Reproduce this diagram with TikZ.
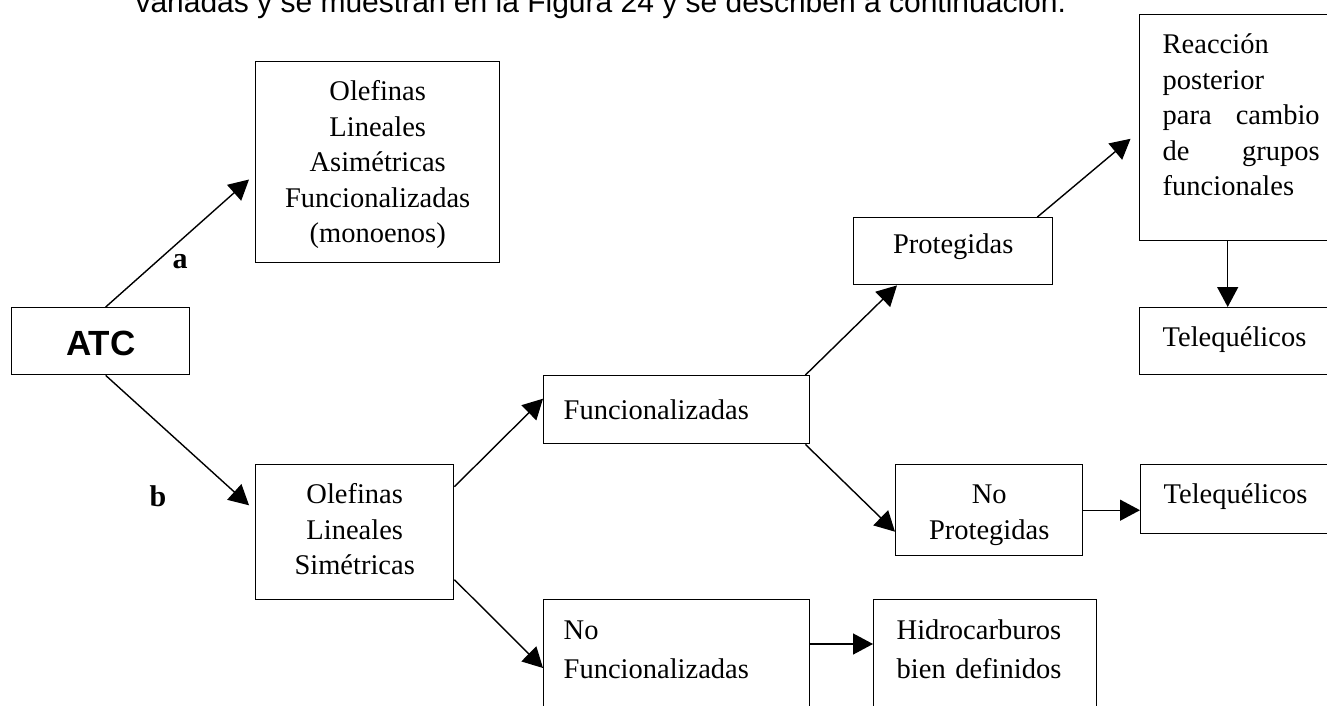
\documentclass[tikz,border=0pt]{standalone}
\usepackage{fontspec}
\setmainfont{Liberation Serif}
\setsansfont{Liberation Sans}
\usetikzlibrary{arrows.meta}
\tikzset{
  caja/.style={draw, line width=1.4pt, rectangle, inner sep=0pt, anchor=north west,
    font=\fontsize{28.5}{35.5}\selectfont},
  flecha/.style={line width=1.4pt, -{Triangle[length=20pt,width=21pt]}},
  etiqueta/.style={anchor=base, font=\fontsize{30}{36}\selectfont\bfseries}
}
\begin{document}
\begin{tikzpicture}[x=1pt,y=-1pt]
\useasboundingbox (0,0) rectangle (1327,706);
\clip (0,0) rectangle (1327,706);
\node[anchor=base west, font=\sffamily\fontsize{30}{36}\selectfont] (encabezado) at (132,13)
  {variadas y se muestran en la Figura 24 y se describen a continuación.};
\node[caja, minimum width=178pt, text width=178pt, align=center, text height=48pt, text depth=19pt,
  font=\sffamily\bfseries\fontsize{35}{42}\selectfont] (atc) at (11,307) {ATC};
\node[caja, minimum width=244pt, text width=224pt, align=center, text height=39pt, text depth=162pt] (asim) at (255,61)
  {Olefinas\\ Lineales\\ Asimétricas\\ Funcionalizadas\\ (monoenos)};
\node[caja, minimum width=203pt, text width=157pt, align=left, text height=39pt, text depth=187pt] (reacc) at (1139,14)
  {Reacción\\ posterior\\ para\hfill cambio\\ de\hfill grupos\\ funcionales};
\node[caja, minimum width=199pt, text width=180pt, align=center, text height=36pt, text depth=31pt] (prot) at (853,217) {Protegidas};
\node[caja, minimum width=203pt, text width=157pt, align=left, text height=39pt, text depth=28pt] (teleqa) at (1139,307) {Telequélicos};
\node[caja, minimum width=198pt, text width=180pt, align=center, text height=39pt, text depth=96pt] (sim) at (255,464)
  {Olefinas\\ Lineales\\ Simétricas};
\node[caja, minimum width=266pt, text width=226pt, align=left, text height=44pt, text depth=24pt] (func) at (543,375) {Funcionalizadas};
\node[caja, minimum width=187pt, text width=170pt, align=center, text height=39pt, text depth=52pt] (noprot) at (895,464)
  {No\\ Protegidas};
\node[caja, minimum width=203pt, text width=157pt, align=left, text height=39pt, text depth=30pt] (teleqb) at (1140,464) {Telequélicos};
\node[caja, minimum width=266pt, text width=226pt, align=left, text height=40pt, text depth=150pt,
  font=\fontsize{28.5}{39}\selectfont] (nofunc) at (543,599) {No\\ Funcionalizadas};
\node[caja, minimum width=223pt, text width=177pt, align=left, text height=40pt, text depth=150pt,
  font=\fontsize{28.5}{39}\selectfont] (hidro) at (873,599) {Hidrocarburos\\ bien definidos};
\node[etiqueta] (rutaa) at (180,268) {a};
\node[etiqueta] (rutab) at (158,506) {b};
\draw[flecha, shorten >=8pt] ([xshift=5pt]atc.north) -- ([yshift=-12pt]asim.west);
\draw[flecha, shorten >=8pt] ([xshift=5pt]atc.south) -- ([yshift=21.5pt]sim.west);
\draw[flecha] ([yshift=45.5pt]sim.east) -- ([yshift=11pt]func.west);
\draw[flecha] ([yshift=-47.5pt]sim.east) -- ([yshift=-69pt]nofunc.north west);
\draw[flecha] ([xshift=-5pt]func.north east) -- ([xshift=44pt]prot.south west);
\draw[flecha] ([xshift=-5pt]func.south east) -- ([yshift=-21.5pt]noprot.west);
\draw[flecha, shorten >=11pt] ([xshift=-16pt]prot.north east) -- ([yshift=-4pt]reacc.west);
\draw[flecha] ([xshift=-13.5pt]reacc.south) -- ([xshift=-13.5pt]teleqa.north);
\draw[flecha] (noprot.east) -- (noprot.east -| teleqb.west);
\draw[flecha] ([yshift=-45pt]nofunc.north east) -- ([yshift=-45pt]hidro.north west);
\end{tikzpicture}
\end{document}
